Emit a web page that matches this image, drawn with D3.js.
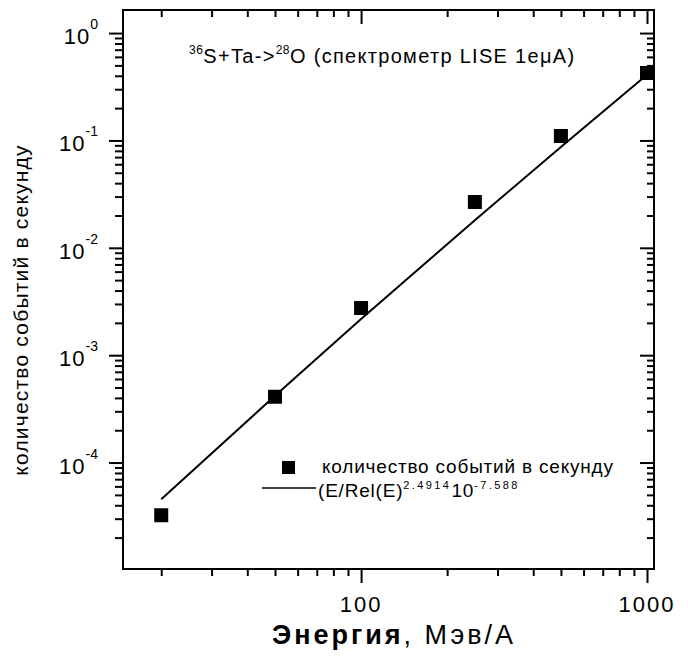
<!DOCTYPE html>
<html><head><meta charset="utf-8">
<script src="https://cdn.jsdelivr.net/npm/d3@7"></script>
<style>
html,body{margin:0;padding:0;background:#fff;}
text{font-family:Arial,"Liberation Sans",sans-serif;fill:#000;}
</style></head>
<body><svg id="c" width="688" height="658"></svg>
<script>
// ---- data ----
const energy = [20, 50, 100, 250, 500, 1000];            // МэВ/А
const rate = [3.23e-5, 4.1e-4, 2.75e-3, 2.67e-2, 0.11, 0.425]; // события/с
const fitEnergy = [20, 50, 100, 250, 500, 1000];
const fitRate = [4.55e-5, 4.18e-4, 2.17e-3, 1.81e-2, 8.7e-2, 0.41];
const xTickValues = [100, 1000];
const xTickLabels = ["100", "1000"];
const yTickExponents = [0, -1, -2, -3, -4];
const xDomain = [14.7, 1058];
const yDomain = [1.02e-5, 1.64];
const titleParts = ["36", "S+Ta->", "28", "O (спектрометр LISE 1eμA)"];
const legendMarkerLabel = "количество событий в секунду";
const legendLineParts = ["(E/Rel(E)", "2.4914", "10", "-7.588"];
const yLabel = "количество событий в секунду";
const xLabelBold = "Энергия";
const xLabelRest = ", Мэв/А";

// ---- layout ----
const L = 123, R = 654, T = 10, B = 569;
const svg = d3.select("#c");
const x = d3.scaleLog().domain(xDomain).range([L, R]);
const y = d3.scaleLog().domain(yDomain).range([B, T]);

const xMinor = x.ticks().filter(v => !xTickValues.includes(v));
const yMajor = yTickExponents.map(e => Math.pow(10, e));
const yMinor = y.ticks().filter(v => !yMajor.some(m => Math.abs(m - v) / m < 1e-6));

function styleAxis(g) {
  g.select(".domain").remove();
  g.selectAll("line").attr("stroke", "#000").attr("stroke-width", 2);
  g.selectAll("text").remove();
}
// bottom (outward)
svg.append("g").attr("transform", `translate(0,${B})`)
  .call(d3.axisBottom(x).tickValues(xTickValues).tickSize(14).tickFormat("")).call(styleAxis);
svg.append("g").attr("transform", `translate(0,${B})`)
  .call(d3.axisBottom(x).tickValues(xMinor).tickSize(7).tickFormat("")).call(styleAxis);
// top (inward)
svg.append("g").attr("transform", `translate(0,${T})`)
  .call(d3.axisBottom(x).tickValues(xTickValues).tickSize(14).tickFormat("")).call(styleAxis);
svg.append("g").attr("transform", `translate(0,${T})`)
  .call(d3.axisBottom(x).tickValues(xMinor).tickSize(7).tickFormat("")).call(styleAxis);
// left (outward)
svg.append("g").attr("transform", `translate(${L},0)`)
  .call(d3.axisLeft(y).tickValues(yMajor).tickSize(14).tickFormat("")).call(styleAxis);
svg.append("g").attr("transform", `translate(${L},0)`)
  .call(d3.axisLeft(y).tickValues(yMinor).tickSize(8).tickFormat("")).call(styleAxis);
// right (inward)
svg.append("g").attr("transform", `translate(${R},0)`)
  .call(d3.axisLeft(y).tickValues(yMajor).tickSize(14).tickFormat("")).call(styleAxis);
svg.append("g").attr("transform", `translate(${R},0)`)
  .call(d3.axisLeft(y).tickValues(yMinor).tickSize(7).tickFormat("")).call(styleAxis);

// frame
svg.append("rect").attr("x", L).attr("y", T).attr("width", R - L).attr("height", B - T)
  .attr("fill", "none").attr("stroke", "#000").attr("stroke-width", 2);

// x tick labels
svg.selectAll(".xl").data(xTickValues).join("text")
  .attr("x", d => x(d)).attr("y", 612).attr("text-anchor", "middle")
  .style("font-size", "22px").style("letter-spacing", "2px")
  .text((d, i) => xTickLabels[i]);

// y tick labels
yTickExponents.forEach(e => {
  const t = svg.append("text").attr("x", 98).attr("y", y(Math.pow(10, e)) + 11)
    .attr("text-anchor", "end").style("font-size", "22px");
  t.append("tspan").style("letter-spacing", "1px").text("10");
  t.append("tspan").attr("dy", -15).style("font-size", "14px").text(String(e));
});

// fit line
const line = d3.line().x(d => x(d[0])).y(d => y(d[1]));
svg.append("path").datum(fitEnergy.map((e, i) => [e, fitRate[i]]))
  .attr("d", line).attr("fill", "none").attr("stroke", "#000").attr("stroke-width", 2);

// data squares
const S = 14;
svg.selectAll(".pt").data(energy.map((e, i) => [e, rate[i]])).join("rect")
  .attr("x", d => x(d[0]) - S / 2).attr("y", d => y(d[1]) - S / 2)
  .attr("width", S).attr("height", S).attr("fill", "#000");

// title
const title = svg.append("text").attr("x", 189).attr("y", 63)
  .style("font-size", "20px").style("letter-spacing", "1.3px");
title.append("tspan").attr("dy", -9).style("font-size", "12px").style("letter-spacing", "0.5px").text(titleParts[0]);
title.append("tspan").attr("dy", 9).text(titleParts[1]);
title.append("tspan").attr("dy", -9).style("font-size", "12px").style("letter-spacing", "0.5px").text(titleParts[2]);
title.append("tspan").attr("dy", 9).text(titleParts[3]);

// legend
svg.append("rect").attr("x", 282).attr("y", 461).attr("width", 13).attr("height", 13).attr("fill", "#000");
svg.append("text").attr("x", 322).attr("y", 473)
  .style("font-size", "19px").style("letter-spacing", "0.8px").text(legendMarkerLabel);
svg.append("line").attr("x1", 262).attr("x2", 316).attr("y1", 488).attr("y2", 488)
  .attr("stroke", "#000").attr("stroke-width", 1.5);
const lt = svg.append("text").attr("x", 318).attr("y", 497)
  .style("font-size", "19px").style("letter-spacing", "0.8px");
lt.append("tspan").text(legendLineParts[0]);
lt.append("tspan").attr("dy", -8).style("font-size", "11px").style("letter-spacing", "2.4px").text(legendLineParts[1]);
lt.append("tspan").attr("dy", 8).text(legendLineParts[2]);
lt.append("tspan").attr("dy", -8).style("font-size", "11px").style("letter-spacing", "2.4px").text(legendLineParts[3]);

// axis titles
svg.append("text").attr("transform", "translate(28,310) rotate(-90)")
  .attr("text-anchor", "middle").style("font-size", "21px").style("letter-spacing", "1.2px").text(yLabel);
const xt = svg.append("text").attr("x", 394).attr("y", 644).attr("text-anchor", "middle")
  .style("font-size", "27px").style("letter-spacing", "3px");
xt.append("tspan").style("font-weight", "bold").text(xLabelBold);
xt.append("tspan").text(xLabelRest);
</script></body></html>
